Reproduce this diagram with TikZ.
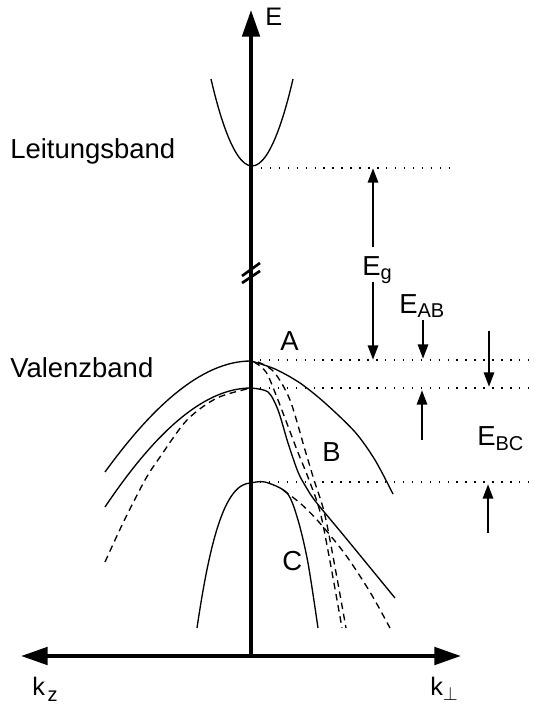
\documentclass[tikz,border=0pt]{standalone}
\usepackage{fontspec}
\setmainfont{Liberation Sans}
\usetikzlibrary{arrows.meta}
\newcommand{\subtxt}[2][3pt]{\raisebox{-#1}{\fontsize{15}{17}\selectfont #2}}

\begin{document}
\begin{tikzpicture}[x=0.75pt, y=-0.75pt, font=\fontsize{20.6}{24}\selectfont,
  band/.style={line width=1pt},
  bandalt/.style={line width=1pt, dash pattern=on 5pt off 3.5pt},
  level/.style={line width=1pt, dash pattern=on 1.1pt off 5.6pt},
  axis/.style={line width=3pt},
  gaparrow/.style={line width=2.2pt, -{Triangle[length=11pt,width=7.5pt]}},
  lbl/.style={anchor=base west, inner sep=0pt}]
  \useasboundingbox (0,0) rectangle (536,706);
  % axes E, k_z, k_perp
  \coordinate (orig) at (251,656);
  \coordinate (Etop) at (251,10);
  \coordinate (kzend) at (21,656);
  \coordinate (kpend) at (461,656);
  \draw[axis, >={Triangle[length=20pt,width=13pt]}, <->] (kzend) -- (kpend);
  \draw[axis, -{Triangle[length=20pt,width=13pt]}] (orig) -- (Etop);
  \draw[line width=2pt] (242,276) -- (260,263) (242,283) -- (260,271);
  \node[lbl, font=\fontsize{19}{22}\selectfont] (Elbl) at (265,26) {E};
  \node[lbl, font=\fontsize{19}{22}\selectfont] (kz) at (32,695) {k\kern2pt\subtxt[4.5pt]{z}};
  \node[lbl, font=\fontsize{19}{22}\selectfont] (kp) at (430,695) {k\subtxt[4pt]{$\perp$}};
  % conduction band
  \draw[band] (211,79) parabola bend (252,166) (293,79);
  \node[lbl] (cb) at (10,158) {Leitungsband};
  % band edges
  \coordinate (cbmin) at (252,168);
  \coordinate (vbA) at (251,360);
  \coordinate (vbB) at (251,388);
  \coordinate (vbC) at (251,482);
  \draw[level] (cbmin) -- (452,168);
  \foreach \e in {vbA,vbB,vbC} {\draw[level] (\e) -- (\e -| 536,0);}
  % valence bands, k_z side
  \node[lbl] (vb) at (10,377) {Valenzband};
  \draw[band] (105,472) .. controls (150,410) and (200,361) .. (251,361);
  \draw[band] (105,507) .. controls (150,440) and (200,388) .. (251,388);
  \draw[bandalt] plot[smooth] coordinates {(105,562) (123,523) (145,480) (160,457) (187,420) (217,398) (251,388)};
  \draw[band] (197,628) .. controls (210,540) and (225,483) .. (251,483);
  % valence bands, k_perp side
  \draw[band] plot[smooth] coordinates {(251,361) (275,369) (300,383) (325,403) (355,432) (375,460) (393,494)};
  \draw[bandalt] plot[smooth] coordinates {(254,362) (266,372) (278,400) (297,450) (309,480) (322,520) (342,628)};
  \draw[bandalt] plot[smooth] coordinates {(258,362) (274,372) (290,400) (305,450) (314,480) (326,520) (346,628)};
  \draw[band] plot[smooth] coordinates {(251,388) (268,392) (278,410) (288,443) (298,472) (306,487) (316,502) (345,537) (395,598)};
  \draw[band] plot[smooth] coordinates {(251,483) (265,482) (287,493) (298,520) (308,563) (318,628)};
  \draw[bandalt] plot[smooth] coordinates {(283,490) (300,503) (318,521) (345,554) (370,592) (390,628)};
  \node[lbl] (A) at (280,350) {A};
  \node[lbl] (B) at (322,461) {B};
  \node[lbl] (C) at (282,570) {C};
  % gaps
  \node[lbl] (Eg) at (362,275) {E\subtxt{g}};
  \coordinate (Egtop) at (373,168);
  \coordinate (Egbot) at (373,360);
  \draw[gaparrow] (Egtop |- 0,247) -- (Egtop);
  \draw[gaparrow] (Egbot |- 0,282) -- (Egbot);
  \node[lbl] (EAB) at (399,313) {E\subtxt{AB}};
  \coordinate (ABtip) at (423,359);
  \coordinate (ABtip2) at (489,387);
  \draw[gaparrow] (ABtip |- 0,320) -- (ABtip);
  \draw[gaparrow] (ABtip2 |- 0,331) -- (ABtip2);
  \node[lbl] (EBC) at (477,445) {E\subtxt[4pt]{BC}};
  \coordinate (BCtip) at (422,390);
  \coordinate (BCtip2) at (488,484);
  \draw[gaparrow] (BCtip |- 0,440) -- (BCtip);
  \draw[gaparrow] (BCtip2 |- 0,533) -- (BCtip2);
\end{tikzpicture}
\end{document}
